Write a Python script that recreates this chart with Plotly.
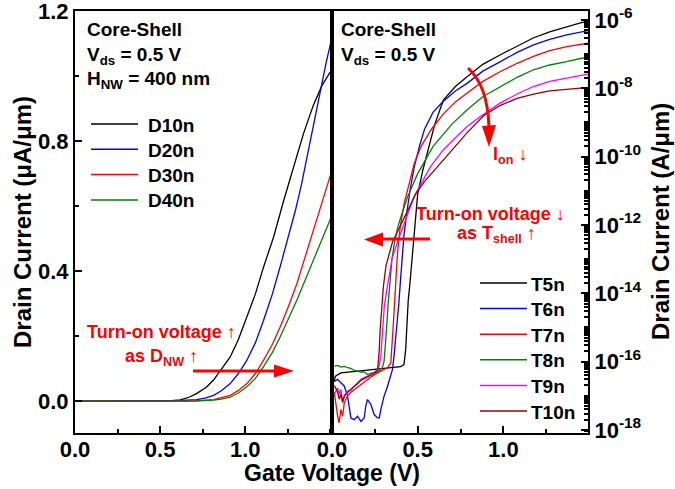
import plotly.graph_objects as go

# ---- left panel: linear drain current (uA/um) vs gate voltage, core diameter sweep
d_names = ["D10n", "D20n", "D30n", "D40n"]
d_colors = ["#000000", "#0000ff", "#ff0000", "#008000"]

d10_v = [0, 0.3, 0.5, 0.55, 0.618, 0.67, 0.716, 0.77, 0.814, 0.86, 0.912, 0.96, 1.01, 1.06,
         1.108, 1.167, 1.225, 1.284, 1.343, 1.40, 1.45, 1.51]
d10_i = [0, 0, 0, 0.001, 0.004, 0.012, 0.024, 0.042, 0.065, 0.098, 0.136, 0.19, 0.259, 0.33,
         0.413, 0.505, 0.615, 0.72, 0.824, 0.91, 0.97, 1.022]
d20_v = [0, 0.3, 0.55, 0.62, 0.716, 0.77, 0.814, 0.86, 0.912, 0.96, 1.01, 1.06, 1.108, 1.16,
         1.206, 1.25, 1.294, 1.33, 1.363, 1.40, 1.441, 1.475, 1.51]
d20_i = [0, 0, 0, 0.002, 0.005, 0.01, 0.018, 0.032, 0.054, 0.085, 0.126, 0.18, 0.249, 0.33,
         0.415, 0.5, 0.585, 0.665, 0.75, 0.85, 0.955, 1.04, 1.12]
d30_v = [0, 0.3, 0.6, 0.7, 0.814, 0.86, 0.912, 0.96, 1.01, 1.06, 1.108, 1.16, 1.206, 1.255,
         1.304, 1.35, 1.40, 1.45, 1.51]
d30_i = [0, 0, 0, 0.001, 0.005, 0.01, 0.018, 0.033, 0.054, 0.085, 0.126, 0.175, 0.229, 0.293,
         0.362, 0.44, 0.525, 0.615, 0.711]
d40_v = [0, 0.3, 0.6, 0.7, 0.814, 0.86, 0.912, 0.96, 1.01, 1.06, 1.108, 1.16, 1.206, 1.255,
         1.304, 1.35, 1.402, 1.45, 1.51]
d40_i = [0, 0, 0, 0, 0.003, 0.006, 0.012, 0.025, 0.044, 0.07, 0.106, 0.15, 0.198, 0.253,
         0.311, 0.37, 0.434, 0.495, 0.572]

# ---- right panel: log drain current (A/um), shell thickness sweep (stored as log10 values)
t_names = ["T5n", "T6n", "T7n", "T8n", "T9n", "T10n"]
t_colors = ["#000000", "#0000ff", "#ff0000", "#008000", "#ff00ff", "#990000"]

t5_v = [0.01, 0.02, 0.052, 0.091, 0.13, 0.188, 0.246, 0.304, 0.362, 0.401, 0.42, 0.43, 0.436,
        0.445, 0.455, 0.468, 0.48, 0.50, 0.53, 0.56, 0.60, 0.65, 0.72, 0.79, 0.88, 0.983, 1.08,
        1.174, 1.27, 1.37, 1.45, 1.5]
t5_log = [-16.6, -16.43, -16.33, -16.31, -16.28, -16.25, -16.23, -16.21, -16.18, -16.15, -16.09,
          -15.65, -15.06, -14.2, -13.7, -12.9, -12.1, -11.1, -10.4, -9.8, -9.05, -8.35, -7.95,
          -7.66, -7.3, -7.02, -6.76, -6.53, -6.35, -6.2, -6.09, -6.04]
t6_v = [0.0136, 0.033, 0.052, 0.072, 0.091, 0.10, 0.11, 0.13, 0.149, 0.169, 0.188, 0.197, 0.207,
        0.227, 0.246, 0.266, 0.276, 0.285, 0.304, 0.324, 0.343, 0.353, 0.362, 0.372, 0.378, 0.39,
        0.40, 0.411, 0.42, 0.435, 0.455, 0.48, 0.51, 0.54, 0.59, 0.65, 0.72, 0.79, 0.88, 0.983,
        1.08, 1.176, 1.27, 1.37, 1.45, 1.5]
t6_log = [-16.58, -16.52, -16.62, -16.72, -17.01, -17.4, -17.65, -17.7, -17.6, -17.75, -17.65,
          -17.3, -17.11, -17.26, -17.55, -17.65, -17.65, -17.4, -17.01, -16.72, -16.43, -16.23,
          -15.84, -15.35, -15.06, -14.3, -13.6, -12.9, -12.3, -11.7, -11.0, -10.3, -9.7, -9.2,
          -8.7, -8.38, -8.08, -7.85, -7.5, -7.22, -6.95, -6.73, -6.57, -6.44, -6.35, -6.31]
t7_v = [0.0136, 0.023, 0.033, 0.042, 0.052, 0.062, 0.072, 0.091, 0.11, 0.149, 0.188, 0.227,
        0.266, 0.304, 0.324, 0.343, 0.349, 0.356, 0.365, 0.372, 0.38, 0.39, 0.40, 0.42, 0.45,
        0.48, 0.52, 0.58, 0.65, 0.72, 0.789, 0.88, 0.983, 1.08, 1.176, 1.27, 1.37, 1.45, 1.5]
t7_log = [-16.9, -17.3, -17.6, -17.79, -17.4, -17.6, -17.2, -17.0, -16.9, -16.75, -16.6, -16.45,
          -16.33, -16.23, -16.18, -16.04, -15.65, -15.06, -14.3, -13.6, -13.0, -12.4, -12.0,
          -11.4, -10.8, -10.2, -9.7, -9.2, -8.75, -8.4, -8.14, -7.8, -7.51, -7.27, -7.07, -6.9,
          -6.78, -6.71, -6.68]
t8_v = [0.0136, 0.033, 0.052, 0.072, 0.091, 0.11, 0.13, 0.149, 0.169, 0.188, 0.207, 0.227,
        0.246, 0.266, 0.285, 0.295, 0.304, 0.31, 0.318, 0.328, 0.338, 0.35, 0.365, 0.382, 0.40,
        0.44, 0.50, 0.59, 0.70, 0.789, 0.88, 0.983, 1.08, 1.176, 1.27, 1.37, 1.45, 1.5]
t8_log = [-16.14, -16.11, -16.16, -16.14, -16.18, -16.2, -16.26, -16.28, -16.31, -16.3, -16.38,
          -16.34, -16.33, -16.3, -16.23, -16.16, -15.99, -15.65, -15.06, -14.3, -13.6, -13.0,
          -12.5, -12.1, -11.8, -11.2, -10.5, -9.7, -9.05, -8.63, -8.25, -7.95, -7.68, -7.46,
          -7.32, -7.22, -7.13, -7.10]
t9_v = [0.0174, 0.033, 0.0426, 0.052, 0.062, 0.072, 0.091, 0.11, 0.13, 0.149, 0.169, 0.188,
        0.207, 0.227, 0.256, 0.275, 0.285, 0.295, 0.305, 0.32, 0.35, 0.382, 0.421, 0.479, 0.576,
        0.65, 0.73, 0.789, 0.866, 0.983, 1.08, 1.176, 1.27, 1.37, 1.45, 1.5]
t9_log = [-16.92, -16.77, -16.96, -16.82, -17.16, -17.01, -16.87, -16.82, -16.72, -16.62, -16.52,
          -16.47, -16.43, -16.38, -16.28, -16.14, -15.84, -15.06, -14.4, -13.9, -13.0, -12.5,
          -11.95, -11.17, -10.29, -9.8, -9.4, -9.12, -8.83, -8.43, -8.17, -7.95, -7.8, -7.7,
          -7.62, -7.58]
t10_v = [0.0136, 0.033, 0.042, 0.052, 0.062, 0.072, 0.081, 0.091, 0.11, 0.13, 0.149, 0.169,
         0.188, 0.207, 0.227, 0.246, 0.266, 0.276, 0.281, 0.29, 0.30, 0.315, 0.335, 0.353, 0.372,
         0.401, 0.44, 0.488, 0.537, 0.634, 0.73, 0.789, 0.886, 0.983, 1.08, 1.176, 1.27, 1.37,
         1.45, 1.5]
t10_log = [-16.7, -16.9, -17.1, -16.95, -17.2, -17.0, -16.95, -16.9, -16.8, -16.72, -16.65,
           -16.55, -16.5, -16.45, -16.4, -16.35, -16.25, -15.65, -15.06, -14.4, -13.8, -13.2,
           -12.8, -12.5, -12.3, -12.0, -11.6, -11.1, -10.75, -10.2, -9.65, -9.3, -8.8, -8.5,
           -8.3, -8.17, -8.08, -8.03, -8.0, -7.99]

log_ticks = [-18, -16, -14, -12, -10, -8, -6]

W, H = 675, 489
TOP, BOT = 11, 433
FONT = "Arial, Liberation Sans, sans-serif"
RED = "#ff0000"


def px(x):
    return x / W


def py(y):
    return (BOT - y) / (BOT - TOP)


fig = go.Figure()

left = [(d10_v, d10_i), (d20_v, d20_i), (d30_v, d30_i), (d40_v, d40_i)]
for (v, i), name, col in zip(left, d_names, d_colors):
    fig.add_trace(go.Scatter(x=v, y=i, mode="lines", name=name,
                             line=dict(color=col, width=1.3), xaxis="x", yaxis="y"))

right = [(t5_v, t5_log), (t6_v, t6_log), (t7_v, t7_log), (t8_v, t8_log),
         (t9_v, t9_log), (t10_v, t10_log)]
for (v, e), name, col in zip(right, t_names, t_colors):
    fig.add_trace(go.Scatter(x=v, y=[10 ** k for k in e], mode="lines", name=name,
                             line=dict(color=col, width=1.3), xaxis="x2", yaxis="y2"))

tickfont = dict(family=FONT, size=22, color="black", weight="bold")
axis_common = dict(showline=True, linecolor="black", linewidth=2, mirror=True,
                   ticks="inside", ticklen=7, tickwidth=1.5, tickcolor="black",
                   showgrid=False, zeroline=False, tickfont=tickfont, automargin=False,
                   ticklabeloverflow="allow")

fig.update_layout(
    width=W, height=H,
    margin=dict(l=0, r=0, t=TOP, b=H - BOT, autoexpand=False),
    paper_bgcolor="white", plot_bgcolor="white",
    showlegend=False,
    xaxis=dict(domain=[px(75), px(332)], range=[0, 1.51], anchor="y",
               tickvals=[0, 0.5, 1.0], ticktext=["0.0", "0.5", "1.0"], ticklabelstandoff=-4,
               minor=dict(dtick=0.25, ticks="inside", ticklen=4, tickcolor="black"),
               **axis_common),
    yaxis=dict(domain=[0, 1], range=[-0.098, 1.2005], anchor="x",
               tickvals=[0, 0.4, 0.8, 1.2], ticktext=["0.0", "0.4", "0.8", "1.2"],
               minor=dict(dtick=0.2, ticks="inside", ticklen=4, tickcolor="black"),
               **axis_common),
    xaxis2=dict(domain=[px(332), px(588)], range=[0, 1.494], anchor="y2",
                tickvals=[0, 0.5, 1.0], ticktext=["0.0", "0.5", "1.0"], ticklabelstandoff=-4,
                minor=dict(dtick=0.25, ticks="inside", ticklen=4, tickcolor="black"),
                **axis_common),
    yaxis2=dict(domain=[0, 1], type="log", range=[-18.09, -5.74], anchor="x2", side="right",
                tickvals=[10 ** k for k in log_ticks],
                ticktext=["10<sup>%d</sup>" % k for k in log_ticks],
                minor=dict(dtick="D1", ticks="inside", ticklen=4, tickcolor="black"),
                **axis_common),
)

ann = []
black_txt = dict(family=FONT, size=19, color="black", weight="bold")
red_txt = dict(family=FONT, size=18, color=RED, weight="bold")
title_font = dict(family=FONT, size=24, color="black", weight="bold")

# axis titles
ann.append(dict(x=px(22), y=0.5, text="Drain Current (μA/μm)", textangle=-90, font=title_font))
ann.append(dict(x=px(660), y=0.5, text="Drain Current (A/μm)", textangle=-90, font=title_font))
ann.append(dict(x=px(332), y=py(473), text="Gate Voltage (V)",
                font=dict(title_font, size=23)))

# condition labels
ann.append(dict(x=px(85), y=py(17), xanchor="left", yanchor="top", align="left", font=black_txt,
                text="Core-Shell<br>V<sub>ds</sub> = 0.5 V<br>H<sub>NW</sub> = 400 nm"))
ann.append(dict(x=px(339), y=py(17), xanchor="left", yanchor="top", align="left", font=black_txt,
                text="Core-Shell<br>V<sub>ds</sub> = 0.5 V"))

shapes = []
# hand-placed legends
for k, (name, col) in enumerate(zip(d_names, d_colors)):
    yy = 124 + 25.3 * k
    shapes.append(dict(type="line", xref="paper", yref="paper", x0=px(91), x1=px(138),
                       y0=py(yy), y1=py(yy), line=dict(color=col, width=1.5)))
    ann.append(dict(x=px(146), y=py(yy + 1), xanchor="left", text=name, font=black_txt))
for k, (name, col) in enumerate(zip(t_names, t_colors)):
    yy = 283 + 25.6 * k
    shapes.append(dict(type="line", xref="paper", yref="paper", x0=px(480), x1=px(527),
                       y0=py(yy), y1=py(yy), line=dict(color=col, width=1.5)))
    ann.append(dict(x=px(529), y=py(yy + 1), xanchor="left", text=name, font=black_txt))

# red remarks
ann.append(dict(x=px(161), y=py(332), text="Turn-on voltage ↑", font=red_txt))
ann.append(dict(x=px(161), y=py(357), text="as D<sub>NW</sub> ↑", font=red_txt))
ann.append(dict(x=px(490), y=py(214), text="Turn-on voltage ↓", font=red_txt))
ann.append(dict(x=px(496), y=py(235), text="as T<sub>shell</sub> ↑", font=red_txt))
ann.append(dict(x=px(510), y=py(155), text="I<sub>on</sub> ↓", font=red_txt))

for a in ann:
    a.setdefault("xref", "paper")
    a.setdefault("yref", "paper")
    a.setdefault("xanchor", "center")
    a.setdefault("yanchor", "middle")
    a["showarrow"] = False


def path(pts, close=True):
    s = "M " + " L ".join("%.5f,%.5f" % (px(x), py(y)) for x, y in pts)
    return s + (" Z" if close else "")


# straight arrows
shapes.append(dict(type="line", xref="paper", yref="paper", x0=px(193), x1=px(276),
                   y0=py(371), y1=py(371), line=dict(color=RED, width=3)))
shapes.append(dict(type="path", xref="paper", yref="paper", fillcolor=RED, line=dict(width=0),
                   path=path([(274, 364.5), (294, 371), (274, 377.5)])))
shapes.append(dict(type="line", xref="paper", yref="paper", x0=px(430), x1=px(381),
                   y0=py(239), y1=py(239), line=dict(color=RED, width=3)))
shapes.append(dict(type="path", xref="paper", yref="paper", fillcolor=RED, line=dict(width=0),
                   path=path([(383, 232.5), (364, 239.5), (383, 246.5)])))
# curved I_on arrow
shapes.append(dict(type="path", xref="paper", yref="paper", line=dict(color=RED, width=3),
                   path="M %.5f,%.5f Q %.5f,%.5f %.5f,%.5f" % (px(468), py(68), px(488), py(86),
                                                                px(489), py(128))))
shapes.append(dict(type="path", xref="paper", yref="paper", fillcolor=RED, line=dict(width=0),
                   path=path([(482, 126), (496, 125), (489, 147)])))

fig.update_layout(annotations=ann, shapes=shapes)
# the page body keeps its default 8px margin otherwise
fig.write_html("out.html", config={"displayModeBar": False},
               post_script="document.body.style.margin='0px';")
